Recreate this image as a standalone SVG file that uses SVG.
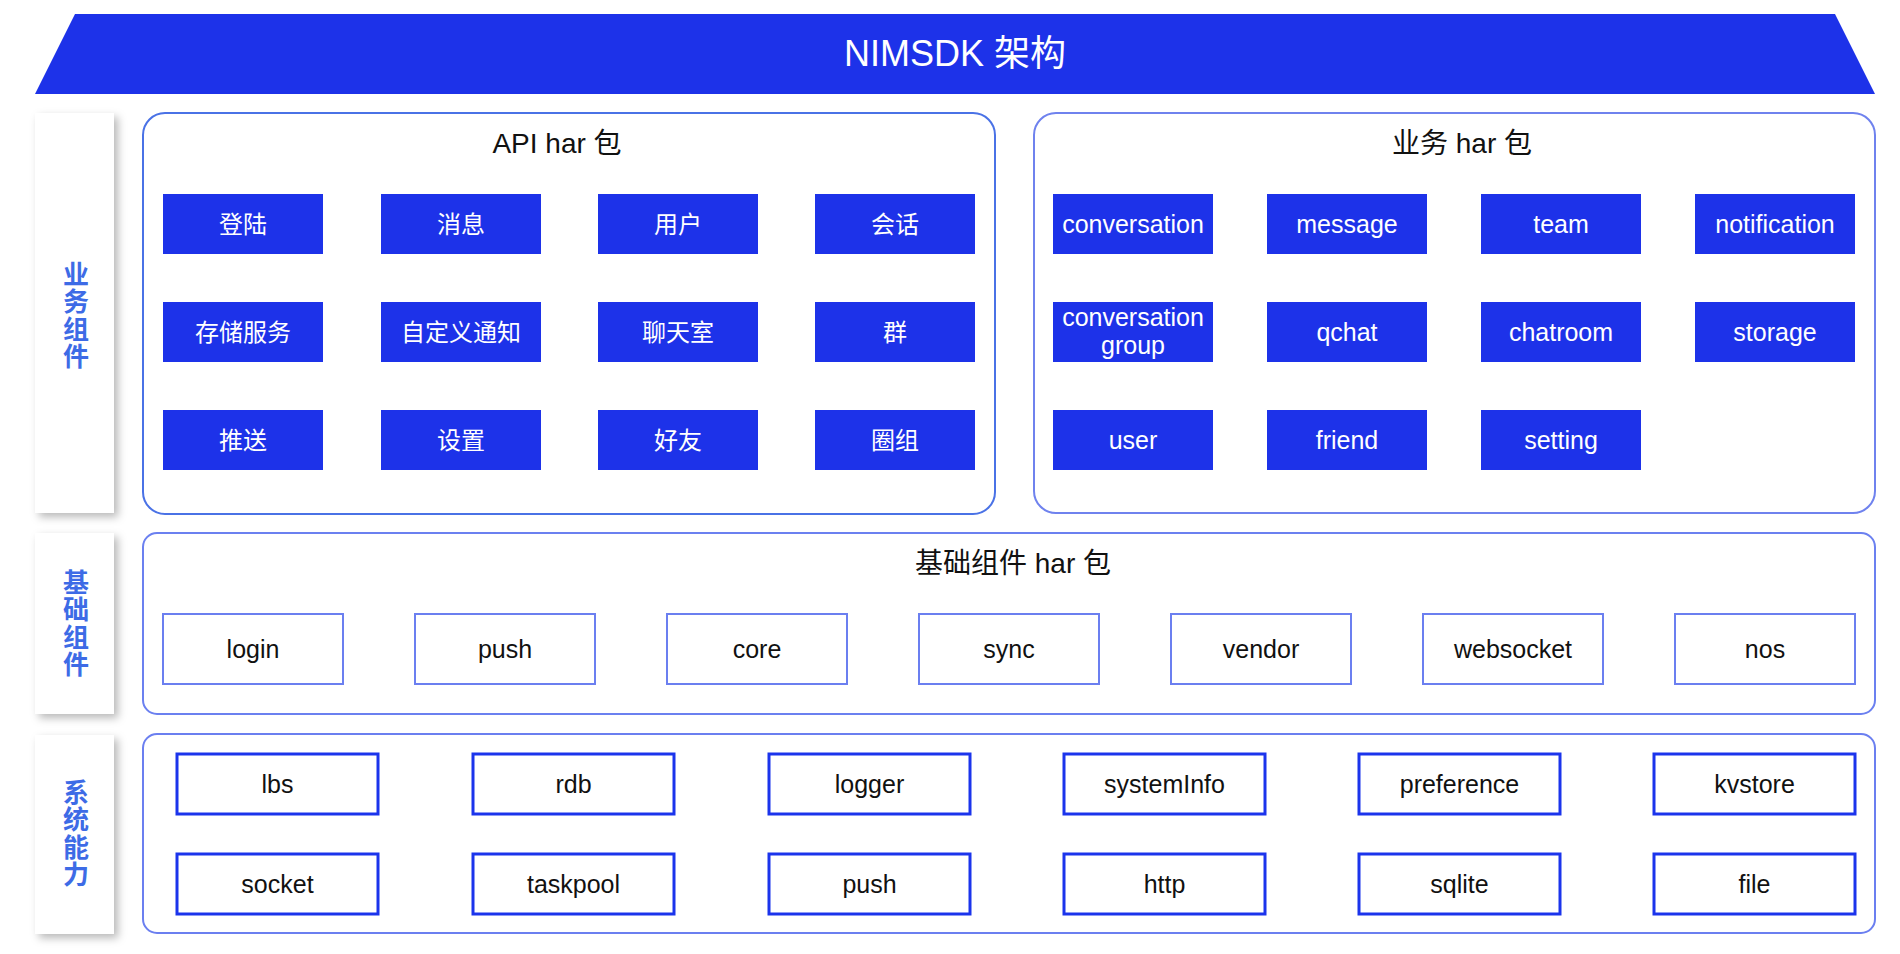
<svg xmlns="http://www.w3.org/2000/svg" width="1900" height="954" viewBox="0 0 1900 954">
<defs>
<filter id="sh" x="-20%" y="-10%" width="150%" height="130%">
<feDropShadow dx="4" dy="4" stdDeviation="4" flood-color="#000" flood-opacity="0.28"/>
</filter>
<style>
text{font-family:"Liberation Sans","Noto Sans CJK SC",sans-serif;text-anchor:middle}
.fb{fill:#1d32e9}
.wt{fill:#fff;font-size:25px}
.wc{fill:#fff;font-size:24px}
.bt{fill:#111;font-size:25px}
.tt{fill:#111;font-size:28px}
.side{fill:#fff;filter:url(#sh)}
.sl{fill:#3d6be6;font-size:26px;font-weight:bold;font-family:"Noto Sans CJK SC",sans-serif;writing-mode:vertical-rl;letter-spacing:1.5px}
.cont{fill:#fff;stroke-width:2}
.bi{fill:#fff;stroke:#6b7ff0;stroke-width:2}
.si{fill:#fff;stroke:#1b34ec;stroke-width:3}
</style>
</defs>
<rect width="1900" height="954" fill="#fff"/>

<g id="banner">
<polygon points="75,14 1835,14 1875,94 35,94" fill="#1d32e9"/>
<text x="955" y="66" style="fill:#fff;font-size:36px">NIMSDK 架构</text>
</g>

<g id="side-business">
<rect class="side" x="35" y="113" width="79" height="400"/>
<text class="sl" x="76" y="316">业务组件</text>
</g>
<g id="side-base">
<rect class="side" x="35" y="533" width="79" height="181"/>
<text class="sl" x="76" y="624">基础组件</text>
</g>
<g id="side-system">
<rect class="side" x="35" y="735" width="79" height="199"/>
<text class="sl" x="76" y="834">系统能力</text>
</g>

<g id="api-har">
<rect class="cont" x="143" y="113" width="852" height="401" rx="22" stroke="#4a72e6"/>
<text class="tt" x="557" y="153">API har 包</text>
<g id="api-nodes">
<rect class="fb" x="163" y="194" width="160" height="60"/><text class="wc" x="243" y="232.5">登陆</text>
<rect class="fb" x="381" y="194" width="160" height="60"/><text class="wc" x="461" y="232.5">消息</text>
<rect class="fb" x="598" y="194" width="160" height="60"/><text class="wc" x="678" y="232.5">用户</text>
<rect class="fb" x="815" y="194" width="160" height="60"/><text class="wc" x="895" y="232.5">会话</text>
<rect class="fb" x="163" y="302" width="160" height="60"/><text class="wc" x="243" y="340.5">存储服务</text>
<rect class="fb" x="381" y="302" width="160" height="60"/><text class="wc" x="461" y="340.5">自定义通知</text>
<rect class="fb" x="598" y="302" width="160" height="60"/><text class="wc" x="678" y="340.5">聊天室</text>
<rect class="fb" x="815" y="302" width="160" height="60"/><text class="wc" x="895" y="340.5">群</text>
<rect class="fb" x="163" y="410" width="160" height="60"/><text class="wc" x="243" y="448.5">推送</text>
<rect class="fb" x="381" y="410" width="160" height="60"/><text class="wc" x="461" y="448.5">设置</text>
<rect class="fb" x="598" y="410" width="160" height="60"/><text class="wc" x="678" y="448.5">好友</text>
<rect class="fb" x="815" y="410" width="160" height="60"/><text class="wc" x="895" y="448.5">圈组</text>
</g>
</g>

<g id="biz-har">
<rect class="cont" x="1034" y="113" width="841" height="400" rx="22" stroke="#6f82ee"/>
<text class="tt" x="1462" y="153">业务 har 包</text>
<g id="biz-nodes">
<rect class="fb" x="1053" y="194" width="160" height="60"/><text class="wt" x="1133" y="232.5">conversation</text>
<rect class="fb" x="1267" y="194" width="160" height="60"/><text class="wt" x="1347" y="232.5">message</text>
<rect class="fb" x="1481" y="194" width="160" height="60"/><text class="wt" x="1561" y="232.5">team</text>
<rect class="fb" x="1695" y="194" width="160" height="60"/><text class="wt" x="1775" y="232.5">notification</text>
<rect class="fb" x="1053" y="302" width="160" height="60"/><text class="wt"><tspan x="1133" y="326">conversation</tspan><tspan x="1133" y="354">group</tspan></text>
<rect class="fb" x="1267" y="302" width="160" height="60"/><text class="wt" x="1347" y="340.5">qchat</text>
<rect class="fb" x="1481" y="302" width="160" height="60"/><text class="wt" x="1561" y="340.5">chatroom</text>
<rect class="fb" x="1695" y="302" width="160" height="60"/><text class="wt" x="1775" y="340.5">storage</text>
<rect class="fb" x="1053" y="410" width="160" height="60"/><text class="wt" x="1133" y="448.5">user</text>
<rect class="fb" x="1267" y="410" width="160" height="60"/><text class="wt" x="1347" y="448.5">friend</text>
<rect class="fb" x="1481" y="410" width="160" height="60"/><text class="wt" x="1561" y="448.5">setting</text>
</g>
</g>

<g id="base-har">
<rect class="cont" x="143" y="533" width="1732" height="181" rx="14" stroke="#6b80f0"/>
<text class="tt" x="1013" y="573">基础组件 har 包</text>
<g id="base-nodes">
<rect class="bi" x="163" y="614" width="180" height="70"/><text class="bt" x="253" y="657.5">login</text>
<rect class="bi" x="415" y="614" width="180" height="70"/><text class="bt" x="505" y="657.5">push</text>
<rect class="bi" x="667" y="614" width="180" height="70"/><text class="bt" x="757" y="657.5">core</text>
<rect class="bi" x="919" y="614" width="180" height="70"/><text class="bt" x="1009" y="657.5">sync</text>
<rect class="bi" x="1171" y="614" width="180" height="70"/><text class="bt" x="1261" y="657.5">vendor</text>
<rect class="bi" x="1423" y="614" width="180" height="70"/><text class="bt" x="1513" y="657.5">websocket</text>
<rect class="bi" x="1675" y="614" width="180" height="70"/><text class="bt" x="1765" y="657.5">nos</text>
</g>
</g>

<g id="system">
<rect class="cont" x="143" y="734" width="1732" height="199" rx="14" stroke="#6b7ff0"/>
<g id="system-nodes">
<rect class="si" x="177" y="754" width="201" height="60"/><text class="bt" x="277.5" y="792.5">lbs</text>
<rect class="si" x="473" y="754" width="201" height="60"/><text class="bt" x="573.5" y="792.5">rdb</text>
<rect class="si" x="769" y="754" width="201" height="60"/><text class="bt" x="869.5" y="792.5">logger</text>
<rect class="si" x="1064" y="754" width="201" height="60"/><text class="bt" x="1164.5" y="792.5">systemInfo</text>
<rect class="si" x="1359" y="754" width="201" height="60"/><text class="bt" x="1459.5" y="792.5">preference</text>
<rect class="si" x="1654" y="754" width="201" height="60"/><text class="bt" x="1754.5" y="792.5">kvstore</text>
<rect class="si" x="177" y="854" width="201" height="60"/><text class="bt" x="277.5" y="892.5">socket</text>
<rect class="si" x="473" y="854" width="201" height="60"/><text class="bt" x="573.5" y="892.5">taskpool</text>
<rect class="si" x="769" y="854" width="201" height="60"/><text class="bt" x="869.5" y="892.5">push</text>
<rect class="si" x="1064" y="854" width="201" height="60"/><text class="bt" x="1164.5" y="892.5">http</text>
<rect class="si" x="1359" y="854" width="201" height="60"/><text class="bt" x="1459.5" y="892.5">sqlite</text>
<rect class="si" x="1654" y="854" width="201" height="60"/><text class="bt" x="1754.5" y="892.5">file</text>
</g>
</g>

<g id="connectors"></g>
</svg>
